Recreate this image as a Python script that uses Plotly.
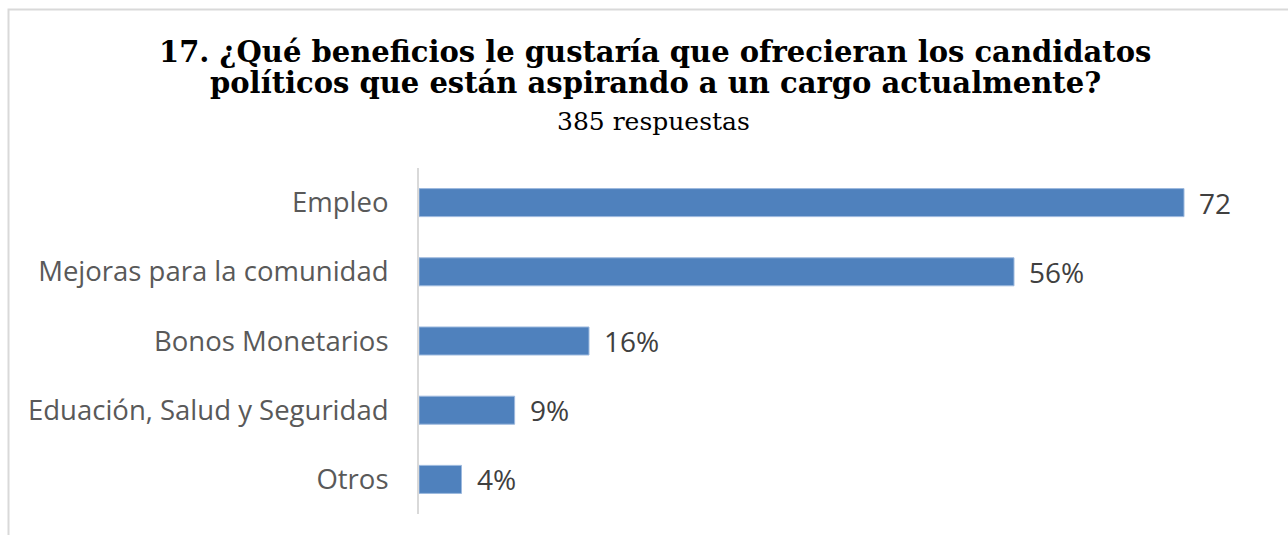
import plotly.graph_objects as go

categories = ["Empleo", "Mejoras para la comunidad", "Bonos Monetarios",
              "Eduación, Salud y Seguridad", "Otros"]
values = [72, 56, 16, 9, 4]
value_labels = ["72", "56%", "16%", "9%", "4%"]

title_lines = ["17. ¿Qué beneficios le gustaría que ofrecieran los candidatos",
               "políticos que están aspirando a un cargo actualmente?"]
subtitle = "385 respuestas"

W, H = 1288, 535
ML, MT, MB = 419, 168, 21
X_MAX = 80
MR = 19
plot_w = W - ML - MR
plot_h = H - MT - MB

BAR_COLOR = "#4F81BD"
LABEL_FONT = "Open Sans, Carlito, Calibri, sans-serif"
TITLE_FONT = "DejaVu Serif, Georgia, serif"

fig = go.Figure(go.Bar(
    x=values,
    y=categories,
    orientation="h",
    marker=dict(color=BAR_COLOR, line=dict(color="#9DB9DE", width=1)),
    hoverinfo="skip",
))

# value labels to the right of each bar
for cat, v, lab in zip(categories, values, value_labels):
    fig.add_annotation(x=v, y=cat, text=lab, showarrow=False,
                       xanchor="left", yanchor="middle", xshift=13,
                       font=dict(family=LABEL_FONT, size=28, color="#404040"))

def px_to_paper_x(px):
    return (px - ML) / plot_w

def px_to_paper_y(py):
    return (H - MB - py) / plot_h

# title block
title_y = [52, 83]
for line, y in zip(title_lines, title_y):
    fig.add_annotation(xref="paper", yref="paper",
                       x=px_to_paper_x(655), y=px_to_paper_y(y),
                       text="<b>" + line + "</b>", showarrow=False,
                       xanchor="center", yanchor="middle",
                       font=dict(family=TITLE_FONT, size=29, color="#000000"))
fig.add_annotation(xref="paper", yref="paper",
                   x=px_to_paper_x(653), y=px_to_paper_y(121),
                   text=subtitle, showarrow=False,
                   xanchor="center", yanchor="middle",
                   font=dict(family=TITLE_FONT, size=25, color="#000000"))

# chart frame
fig.add_shape(type="rect", xref="paper", yref="paper",
              x0=px_to_paper_x(8.5), x1=px_to_paper_x(W + 20),
              y0=px_to_paper_y(H + 20), y1=px_to_paper_y(9.5),
              line=dict(color="#D9D9D9", width=2), layer="below")

fig.update_layout(
    width=W, height=H,
    margin=dict(l=ML, r=MR, t=MT, b=MB, pad=0),
    paper_bgcolor="white", plot_bgcolor="white",
    bargap=0.595,
    showlegend=False,
    xaxis=dict(range=[0, X_MAX], visible=False, fixedrange=True),
    yaxis=dict(
        categoryorder="array", categoryarray=categories,
        autorange="reversed",
        showline=True, linecolor="#D9D9D9", linewidth=2,
        showgrid=False, zeroline=False,
        ticks="", ticklabelstandoff=23,
        tickfont=dict(family=LABEL_FONT, size=27.5, color="#595959"),
        fixedrange=True,
    ),
)

fig.write_html("out.html")
